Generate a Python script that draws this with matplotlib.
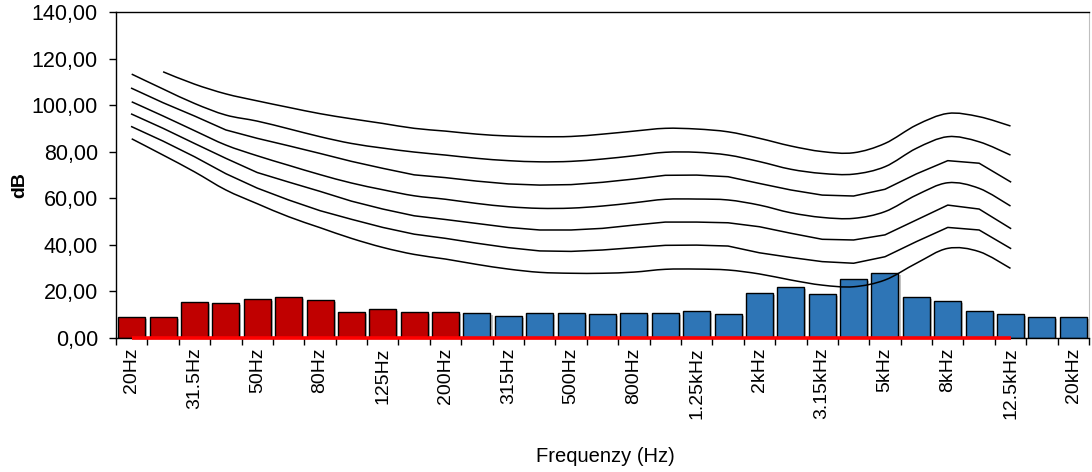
import numpy as np
import matplotlib
matplotlib.use("Agg")
import matplotlib.pyplot as plt
from matplotlib.path import Path
from matplotlib.patches import PathPatch
import matplotlib.patheffects as pe
from matplotlib.ticker import FuncFormatter, FixedLocator

plt.rcParams['font.family'] = ['Liberation Sans', 'DejaVu Sans']

# third-octave bands 20 Hz .. 20 kHz
bands = ["20Hz", "25Hz", "31.5Hz", "40Hz", "50Hz", "63Hz", "80Hz", "100Hz",
         "125Hz", "160Hz", "200Hz", "250Hz", "315Hz", "400Hz", "500Hz",
         "630Hz", "800Hz", "1kHz", "1.25kHz", "1.6kHz", "2kHz", "2.5kHz",
         "3.15kHz", "4kHz", "5kHz", "6.3kHz", "8kHz", "10kHz", "12.5kHz",
         "16kHz", "20kHz"]

# measured band levels (dB)
levels = [8.8, 8.8, 15.5, 14.9, 16.8, 17.4, 16.2, 11.2, 12.5, 11.2, 11.2,
          10.7, 9.5, 10.7, 10.7, 10.2, 10.7, 10.7, 11.3, 10.2, 19.2, 21.7,
          18.7, 25.3, 27.9, 17.5, 15.6, 11.5, 10.1, 8.9, 8.9]
n_low = 11  # bands up to 200 Hz drawn in red

# equal-loudness contours, 20 Hz .. 12.5 kHz (None = no value)
contour_90 = [None, 114.3, 109.0, 104.8, 101.8, 99.0, 96.3, 94.1, 92.1, 90.0,
              88.8, 87.5, 86.7, 86.4, 86.5, 87.5, 88.8, 90.0, 89.7, 88.5,
              85.7, 82.4, 80.0, 79.5, 83.5, 91.4, 96.4, 95.0, 91.0]
contour_80 = [113.3, 106.9, 100.7, 95.7, 93.1, 89.8, 86.4, 83.5, 81.5, 79.8,
              78.5, 77.1, 76.1, 75.6, 75.8, 76.8, 78.2, 79.7, 79.7, 78.5,
              75.7, 72.4, 70.6, 70.3, 73.5, 81.4, 86.4, 84.2, 78.5]
contour_70 = [107.2, 101.0, 95.3, 89.3, 85.7, 82.5, 79.2, 75.8, 72.8, 70.0,
              68.8, 67.3, 66.1, 65.6, 65.8, 66.8, 68.2, 69.8, 69.9, 69.2,
              66.3, 63.5, 61.3, 60.9, 63.8, 70.4, 76.1, 75.0, 67.0]
contour_60 = [101.4, 95.3, 89.0, 82.8, 78.2, 74.1, 70.1, 66.5, 63.6, 61.0,
              59.5, 57.7, 56.3, 55.6, 55.7, 56.6, 58.0, 59.5, 59.6, 59.2,
              57.0, 53.7, 51.7, 51.3, 54.2, 61.3, 66.6, 64.2, 56.6]
contour_50 = [96.1, 90.0, 83.5, 77.1, 71.0, 66.9, 62.9, 58.7, 55.3, 52.4,
              50.8, 49.1, 47.4, 46.3, 46.3, 47.0, 48.4, 49.7, 49.7, 49.4,
              47.7, 44.9, 42.3, 42.0, 44.2, 50.6, 57.0, 55.3, 47.0]
contour_40 = [90.7, 84.5, 77.8, 70.5, 64.3, 59.2, 54.6, 50.9, 47.4, 44.5,
              42.7, 40.6, 38.7, 37.3, 37.1, 37.7, 38.7, 39.7, 39.8, 39.4,
              36.5, 34.5, 32.7, 32.0, 34.8, 41.3, 47.4, 46.3, 38.4]
contour_30 = [85.5, 78.5, 71.3, 63.5, 57.6, 52.0, 47.3, 42.7, 38.8, 35.8,
              33.8, 31.5, 29.5, 28.1, 27.7, 27.7, 28.2, 29.4, 29.5, 29.1,
              27.4, 24.8, 22.6, 21.9, 24.8, 32.0, 38.4, 37.0, 29.8]
smooth_contours = [contour_90, contour_80, contour_60, contour_30]
straight_contours = [contour_70, contour_50, contour_40]

# reference baseline (0 dB) over the contour range
baseline = [0.0] * 29

yticks = [0, 20, 40, 60, 80, 100, 120, 140]

RED = "#C00000"
BLUE = "#2E75B6"

fig = plt.figure(figsize=(10.92, 4.72), dpi=100)
ax = fig.add_axes([116 / 1092, 1 - 337.7 / 472, (1089 - 116) / 1092, (337.7 - 12) / 472])

x = np.arange(len(bands))
colors = [RED] * n_low + [BLUE] * (len(bands) - n_low)
bars = ax.bar(x, levels, width=0.86, color=colors, edgecolor="black", linewidth=1.0, zorder=2)
for b in bars:
    b.set_path_effects([pe.SimplePatchShadow(offset=(1.5, -1.5), shadow_rgbFace="0.6", alpha=0.6),
                        pe.Normal()])


def smooth_path(xs, ys):
    # Catmull-Rom style Bezier through the points
    pts = np.column_stack([xs, ys])
    verts = [pts[0]]
    codes = [Path.MOVETO]
    n = len(pts)
    for i in range(n - 1):
        p0 = pts[i - 1] if i > 0 else pts[i]
        p1 = pts[i]
        p2 = pts[i + 1]
        p3 = pts[i + 2] if i + 2 < n else pts[i + 1]
        c1 = p1 + (p2 - p0) / 6.0
        c2 = p2 - (p3 - p1) / 6.0
        verts += [c1, c2, p2]
        codes += [Path.CURVE4] * 3
    return Path(verts, codes)


def valid(curve):
    idx = [i for i, v in enumerate(curve) if v is not None]
    return np.array(idx, float), np.array([curve[i] for i in idx], float)


for c in smooth_contours:
    xs, ys = valid(c)
    ax.add_patch(PathPatch(smooth_path(xs, ys), facecolor="none", edgecolor="black",
                           linewidth=1.1, zorder=3))
for c in straight_contours:
    xs, ys = valid(c)
    ax.plot(xs, ys, color="black", linewidth=1.1, zorder=3)

ax.plot(np.arange(len(baseline)), baseline, color="#FF0000", linewidth=2.6,
        solid_capstyle="butt", zorder=4, clip_on=False)

ax.set_xlim(-0.5, len(bands) - 0.5)
ax.set_ylim(0, 140)

ax.set_yticks(yticks)
ax.yaxis.set_major_formatter(FuncFormatter(lambda v, p: f"{v:.2f}".replace(".", ",")))
ax.tick_params(axis="y", direction="out", length=5, width=1, pad=8, labelsize=15.5)

ax.xaxis.set_major_locator(FixedLocator(x[::2]))
ax.set_xticklabels(bands[::2], rotation=90, fontsize=14)
ax.xaxis.set_minor_locator(FixedLocator(np.arange(len(bands) + 1) - 0.5))
ax.tick_params(axis="x", which="major", length=0, pad=7)
ax.tick_params(axis="x", which="minor", direction="out", length=5, width=1)

for s in ["left", "bottom", "top"]:
    ax.spines[s].set_color("black")
    ax.spines[s].set_linewidth(1.0)
ax.spines["right"].set_color("#BFBFBF")

fig.text(605 / 1092, 1 - 456 / 472, "Frequenzy (Hz)", ha="center", va="center", fontsize=14.5)
fig.text(20 / 1092, 1 - 185 / 472, "dB", ha="center", va="center", rotation=90,
         fontsize=14, fontweight="bold")

fig.savefig("out.png", dpi=100)
